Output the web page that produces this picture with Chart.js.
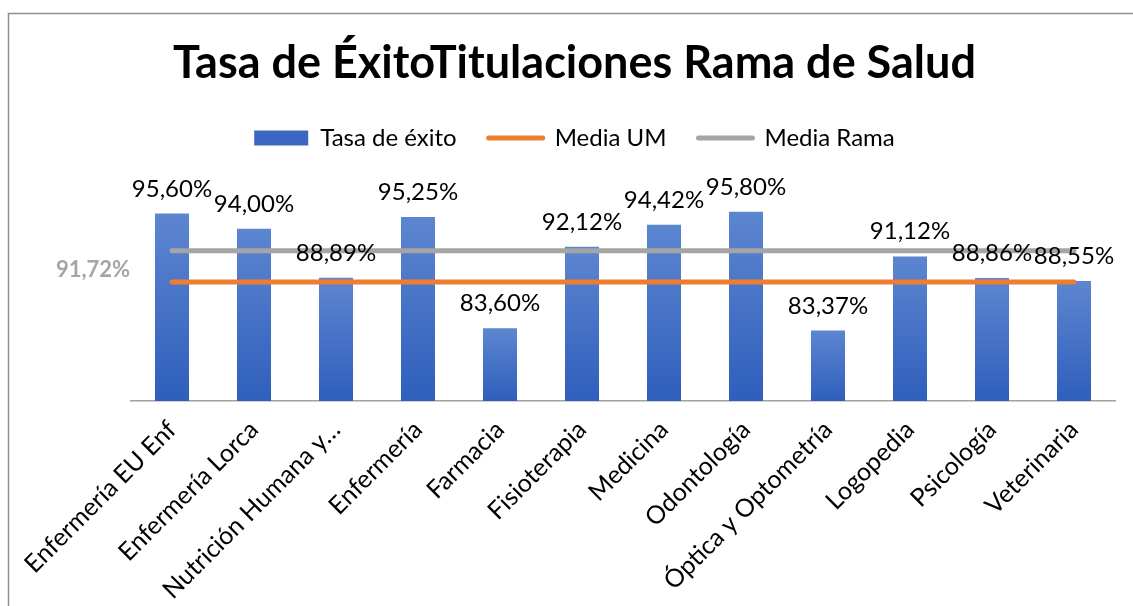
<!DOCTYPE html>
<html><head><meta charset="utf-8">
<script src="https://cdn.jsdelivr.net/npm/chart.js@4.4.0/dist/chart.umd.min.js"></script>
<style>html,body{margin:0;padding:0;background:#fff;overflow:hidden}</style>
</head><body>
<canvas id="c" width="1133" height="606"></canvas>
<script>
const categories = ["Enfermería EU Enf","Enfermería Lorca","Nutrición Humana y…","Enfermería","Farmacia","Fisioterapia","Medicina","Odontología","Óptica y Optometría","Logopedia","Psicología","Veterinaria"];
const tasaExito = [95.60, 94.00, 88.89, 95.25, 83.60, 92.12, 94.42, 95.80, 83.37, 91.12, 88.86, 88.55];
const mediaUM = [88.45, 88.45, 88.45, 88.45, 88.45, 88.45, 88.45, 88.45, 88.45, 88.45, 88.45, 88.45];
const mediaRama = [91.72, 91.72, 91.72, 91.72, 91.72, 91.72, 91.72, 91.72, 91.72, 91.72, 91.72, 91.72];
const seriesNames = ["Tasa de éxito", "Media UM", "Media Rama"];
const yMin = 76, yMax = 101.2;

const FONT = "Lato, 'Open Sans', sans-serif";
const fmt = v => v.toFixed(2).replace('.', ',') + '%';

function barGradient(ctx) {
  const chart = ctx.chart;
  if (!chart.chartArea || ctx.raw === undefined) return '#4472C4';
  const ys = chart.scales.y;
  const top = ys.getPixelForValue(ctx.raw);
  const base = ys.getPixelForValue(yMin);
  if (!isFinite(top) || !isFinite(base) || top === base) return '#4472C4';
  const g = chart.ctx.createLinearGradient(0, top, 0, base);
  g.addColorStop(0, '#5D86D0');
  g.addColorStop(1, '#2F5FBC');
  return g;
}

const decor = {
  id: 'decor',
  beforeDraw(chart) {
    const c = chart.ctx;
    c.save();
    c.fillStyle = '#fff';
    c.fillRect(0, 0, chart.width, chart.height);
    c.strokeStyle = '#8f8f8f';
    c.lineWidth = 1.5;
    c.beginPath();
    c.moveTo(8.5, chart.height);
    c.lineTo(8.5, 13.5);
    c.lineTo(chart.width, 13.5);
    c.stroke();
    c.restore();
  },
  afterDraw(chart) {
    const c = chart.ctx;
    c.save();
    const meta = chart.getDatasetMeta(0);
    c.font = "24px " + FONT;
    c.fillStyle = '#000';
    c.textAlign = 'center';
    c.textBaseline = 'alphabetic';
    meta.data.forEach((el, i) => {
      c.fillText(fmt(tasaExito[i]), el.x, el.y - 17);
    });
    const ys = chart.scales.y;
    c.font = "bold 22px " + FONT;
    c.fillStyle = '#A5A5A5';
    c.fillText(fmt(mediaRama[0]), chart.chartArea.left - 38, ys.getPixelForValue(mediaRama[0]) + 26);
    c.restore();
  }
};

new Chart(document.getElementById('c'), {
  data: {
    labels: categories,
    datasets: [
      { type: 'bar', label: seriesNames[0], data: tasaExito, backgroundColor: barGradient,
        barPercentage: 0.415, categoryPercentage: 1, order: 3 },
      { type: 'line', label: seriesNames[1], data: mediaUM, borderColor: '#ED7D31', backgroundColor: '#ED7D31',
        borderWidth: 5, pointRadius: 0, borderCapStyle: 'round', order: 2 },
      { type: 'line', label: seriesNames[2], data: mediaRama, borderColor: '#A5A5A5', backgroundColor: '#A5A5A5',
        borderWidth: 5, pointRadius: 0, borderCapStyle: 'round', order: 1 }
    ]
  },
  options: {
    responsive: false,
    animation: false,
    devicePixelRatio: 1,
    layout: { padding: { left: 34, right: 18, top: 0, bottom: 0 } },
    plugins: {
      title: { display: true, text: 'Tasa de ÉxitoTitulaciones Rama de Salud', color: '#000',
        font: { family: FONT, size: 45, weight: 'bold' }, padding: { top: 36, bottom: 4 } },
      legend: {
        position: 'top',
        labels: {
          color: '#000', font: { family: FONT, size: 24 }, padding: 32,
          usePointStyle: true, pointStyleWidth: 54, boxHeight: 15,
          generateLabels(chart) {
            return chart.data.datasets.map((ds, i) => ({
              text: ds.label,
              fillStyle: i === 0 ? '#3B67C2' : ds.borderColor,
              strokeStyle: i === 0 ? '#3B67C2' : ds.borderColor,
              lineWidth: i === 0 ? 0 : 5,
              lineCap: 'round',
              pointStyle: i === 0 ? 'rect' : 'line',
              fontColor: '#000',
              hidden: false,
              datasetIndex: i
            }));
          }
        }
      },
      tooltip: { enabled: false }
    },
    scales: {
      x: {
        grid: { display: false },
        border: { display: true, color: '#A0A0A0', width: 1.5 },
        ticks: { color: '#000', font: { family: FONT, size: 25 }, autoSkip: false, minRotation: 45, maxRotation: 45, padding: 6 },
        afterFit(s) { s.height = 205; s.paddingLeft = 0; s.paddingRight = 0; }
      },
      y: {
        min: yMin, max: yMax,
        display: true,
        grid: { display: false },
        border: { display: false },
        ticks: { display: false },
        afterFit(s) { s.width = 97; }
      }
    }
  },
  plugins: [decor]
});
</script>
</body></html>
